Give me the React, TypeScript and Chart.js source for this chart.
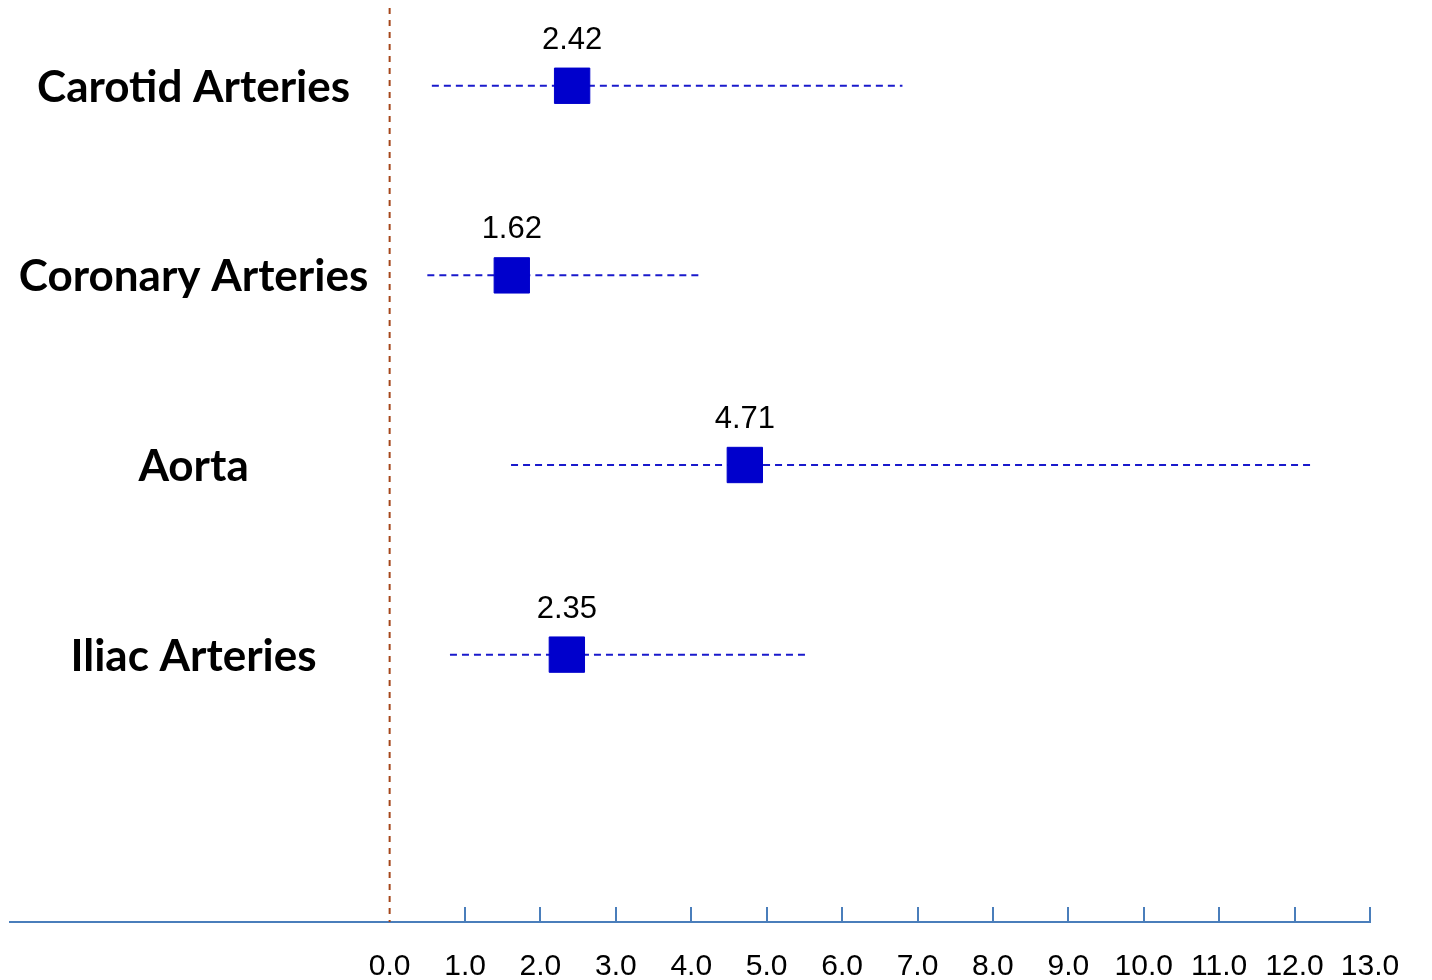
import React, { useEffect, useRef } from 'react';
import { Chart, registerables } from 'chart.js';

Chart.register(...registerables);

// ---- data ----
const categories = ['Carotid Arteries', 'Coronary Arteries', 'Aorta', 'Iliac Arteries'];
const rowPositions = [4, 3, 2, 1];
const estimates = [2.42, 1.62, 4.71, 2.35];
const lowerCI = [0.56, 0.5, 1.61, 0.8];
const upperCI = [6.8, 4.14, 12.23, 5.51];
const referenceValue = 0;

// ---- scale ranges ----
const X_MIN = -5.034;
const X_MAX = 13;
const Y_MIN = -0.41;
const Y_MAX = 4.41;
const LABEL_CENTER_X = -2.6;

const AXIS_COLOR = '#4a7ebb';
const MARKER_COLOR = '#0000cc';
const CI_COLOR = '#1a1acc';
const REF_COLOR = '#a5461a';

const decorPlugin = {
  id: 'forestDecor',
  afterDatasetsDraw(chart: any) {
    const { ctx } = chart;
    const x = chart.scales.x;
    const y = chart.scales.y;
    ctx.save();
    // tick marks pointing up from the axis
    ctx.strokeStyle = AXIS_COLOR;
    ctx.lineWidth = 2;
    x.ticks.forEach((t: any) => {
      if (t.value > 0) {
        const px = Math.round(x.getPixelForValue(t.value));
        ctx.beginPath();
        ctx.moveTo(px, y.bottom);
        ctx.lineTo(px, y.bottom - 15);
        ctx.stroke();
      }
    });
    // value labels above markers
    ctx.fillStyle = '#000';
    ctx.textAlign = 'center';
    ctx.textBaseline = 'alphabetic';
    ctx.font = '31px "Liberation Sans", Arial, sans-serif';
    estimates.forEach((v, i) => {
      ctx.fillText(v.toFixed(2), x.getPixelForValue(v), y.getPixelForValue(rowPositions[i]) - 37);
    });
    // category labels
    ctx.font = 'bold 44px Lato, "Open Sans", sans-serif';
    categories.forEach((c, i) => {
      ctx.fillText(c, x.getPixelForValue(LABEL_CENTER_X), y.getPixelForValue(rowPositions[i]) + 16);
    });
    ctx.restore();
  },
};

export default function App() {
  const canvasRef = useRef<HTMLCanvasElement | null>(null);

  useEffect(() => {
    if (!canvasRef.current) return;
    const datasets: any[] = [
      {
        label: 'Estimate',
        data: estimates.map((v, i) => ({ x: v, y: rowPositions[i] })),
        pointStyle: 'rect',
        pointRadius: 25,
        pointBackgroundColor: MARKER_COLOR,
        pointBorderColor: MARKER_COLOR,
        pointBorderWidth: 1,
        showLine: false,
        order: 0,
      },
      ...categories.map((c, i) => ({
        label: c + ' CI',
        data: [
          { x: lowerCI[i], y: rowPositions[i] },
          { x: upperCI[i], y: rowPositions[i] },
        ],
        showLine: true,
        borderColor: CI_COLOR,
        borderWidth: 2,
        borderDash: [7, 5],
        pointRadius: 0,
        order: 1,
      })),
      {
        label: 'Reference',
        data: [
          { x: referenceValue, y: Y_MAX },
          { x: referenceValue, y: Y_MIN },
        ],
        showLine: true,
        borderColor: REF_COLOR,
        borderWidth: 2,
        borderDash: [6, 6],
        pointRadius: 0,
        order: 2,
      },
    ];

    const chart = new Chart(canvasRef.current, {
      type: 'scatter',
      data: { datasets },
      options: {
        animation: false,
        responsive: false,
        devicePixelRatio: 1,
        layout: { autoPadding: false, padding: { left: 10, right: 62, top: 8, bottom: 0 } },
        plugins: { legend: { display: false }, tooltip: { enabled: false } },
        scales: {
          x: {
            type: 'linear',
            position: 'bottom',
            min: X_MIN,
            max: X_MAX,
            afterFit: (s: any) => {
              s.height = 58;
              s.paddingLeft = 0;
              s.paddingRight = 0;
            },
            border: { display: true, color: AXIS_COLOR, width: 2 },
            grid: { display: true, drawOnChartArea: false, drawTicks: false },
            ticks: {
              stepSize: 1,
              includeBounds: false,
              autoSkip: false,
              maxRotation: 0,
              minRotation: 0,
              padding: 27,
              color: '#000',
              font: { family: '"Liberation Sans", Arial, sans-serif', size: 30 },
              callback: (v: any) => (Number(v) >= 0 ? Number(v).toFixed(1) : ''),
            },
          },
          y: {
            type: 'linear',
            display: false,
            min: Y_MIN,
            max: Y_MAX,
          },
        },
      },
      plugins: [decorPlugin],
    } as any);
    return () => chart.destroy();
  }, []);

  return (
    <div style={{ position: 'fixed', left: 0, top: 0, width: 1432, height: 980, background: '#fff' }}>
      <canvas ref={canvasRef} width={1432} height={980} />
    </div>
  );
}
